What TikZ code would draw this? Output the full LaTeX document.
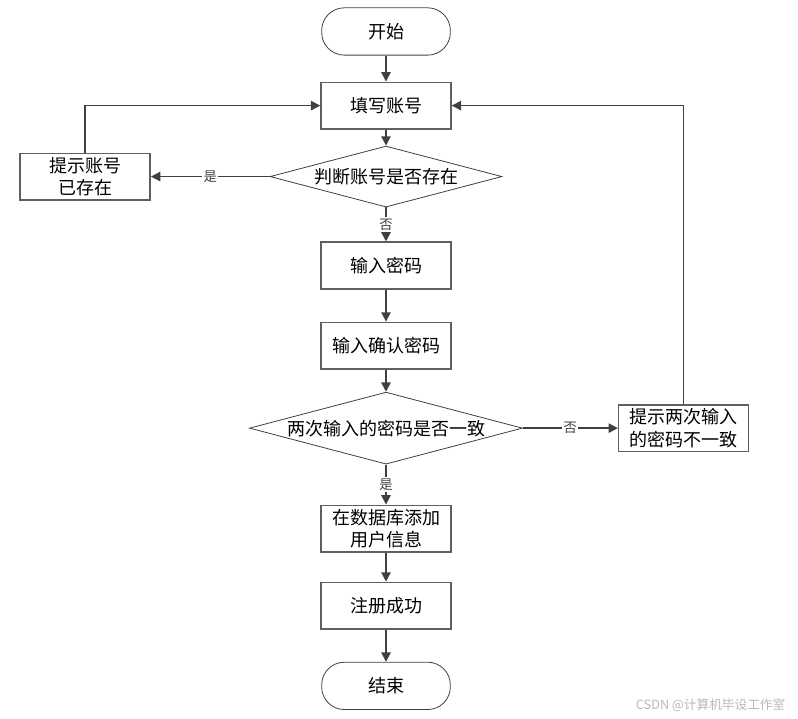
\documentclass[tikz,border=0pt]{standalone}
\usepackage{fontspec}
\setmainfont{Noto Sans CJK SC}
\definecolor{linegrey}{RGB}{64, 64, 64}
\definecolor{boxgrey}{RGB}{95, 95, 95}
\definecolor{markgrey}{RGB}{185, 185, 185}
\usetikzlibrary{positioning, shapes.geometric, arrows.meta}

\begin{document}
\begin{tikzpicture}[node distance=20pt, >={Triangle[length=7pt, width=7pt]},
    every node/.style={font=\fontsize{13.5}{17}\selectfont},
    procbox/.style={draw=boxgrey, line width=1.1pt, rectangle, minimum width=97.5pt, minimum height=35pt, align=center, inner sep=1pt},
    termbox/.style={draw=linegrey, line width=0.6pt, rectangle, rounded corners=17pt, minimum width=96.5pt, minimum height=35.5pt},
    decision/.style={draw=linegrey, line width=0.6pt, diamond, aspect=3.8, inner sep=0pt},
    flow/.style={->, line width=1.2pt, linegrey},
    lbl/.style={fill=white, inner sep=1pt, font=\fontsize{10}{12}\selectfont}]
    \useasboundingbox (0,0) rectangle (598.5pt,-538.5pt);

    % main column
    \node [termbox] (start) at (289.5pt,-23.6pt) {开始};
    \node [procbox, below=19.5pt of start] (fill) {填写账号};
    \node [decision, minimum width=174pt, minimum height=45.75pt, below=12pt of fill] (chk) {判断账号是否存在};
    \node [procbox, below=25.5pt of chk] (pwd) {输入密码};
    \node [procbox, below=24pt of pwd] (repwd) {输入确认密码};
    \node [decision, minimum width=204.75pt, minimum height=54pt, below=16.5pt of repwd] (same) {两次输入的密码是否一致};
    \node [procbox, below=30pt of same] (save) {在数据库添加\\用户信息};
    \node [procbox, below=21.75pt of save] (done) {注册成功};
    \node [termbox, below=24pt of done] (stop) {结束};

    % side boxes
    \node [procbox, left=89pt of chk] (exist) {提示账号\\已存在};
    \node [procbox, right=71.25pt of same] (diff) {提示两次输入\\的密码不一致};

    \node [text=markgrey, anchor=east, font=\fontsize{9.5}{11}\selectfont] (mark) at (592.5pt,-528.75pt) {CSDN @计算机毕设工作室};

    \draw [flow] (start) -- (fill);
    \draw [flow] (fill) -- (chk);
    \draw [flow] (chk) -- node [lbl] {否} (pwd);
    \draw [flow] (pwd) -- (repwd);
    \draw [flow] (repwd) -- (same);
    \draw [flow] (same) -- node [lbl] {是} (save);
    \draw [flow] (save) -- (done);
    \draw [flow] (done) -- (stop);
    \draw [flow] (chk) -- node [lbl] {是} (exist);
    \draw [flow] (same) -- node [lbl] {否} (diff);
    \draw [flow] (exist) |- (fill);
    \draw [flow] (diff) |- (fill);
\end{tikzpicture}
\end{document}
